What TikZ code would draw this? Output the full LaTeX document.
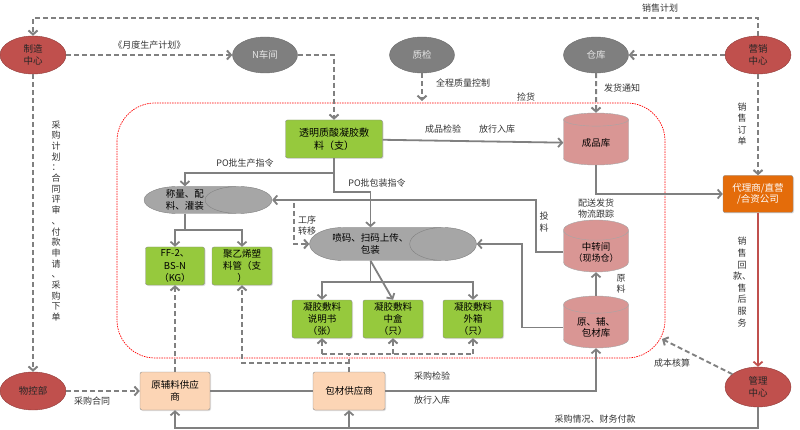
\documentclass[tikz,border=0pt]{standalone}
\usepackage{fontspec}
\setmainfont{Noto Sans CJK SC}
\usetikzlibrary{shapes.geometric,arrows.meta,shadows}

\definecolor{cred}{HTML}{C0504D}
\definecolor{cgray}{HTML}{7F7F7F}
\definecolor{cgreen}{HTML}{96C93D}
\definecolor{cpink}{HTML}{D99694}
\definecolor{corange}{HTML}{E46C0A}
\definecolor{cpeach}{HTML}{FCD5B5}
\definecolor{cpill}{HTML}{A6A6A6}
\definecolor{cline}{HTML}{808080}

\begin{document}
\begin{tikzpicture}[x=1pt,y=-1pt,
  font=\fontsize{9.5}{11.5}\selectfont,
  every node/.style={align=center},
  redell/.style={ellipse, draw=cred!75!black, fill=cred, text=black!85, minimum width=66, minimum height=38, inner sep=0pt},
  grayell/.style={ellipse, draw=cgray!85!black, fill=cgray, text=white!90!black, minimum width=65, minimum height=36, inner sep=0pt},
  box/.style={rectangle, rounded corners=2pt, draw=black!45, inner sep=1pt, drop shadow={opacity=0.25, shadow xshift=1pt, shadow yshift=-1pt}},
  greenbox/.style={box, fill=cgreen, minimum width=60, minimum height=38, font=\fontsize{9.5}{12.3}\selectfont},
  peachbox/.style={box, fill=cpeach, minimum width=70, minimum height=38},
  orangebox/.style={box, fill=corange, text=white, minimum width=70, minimum height=37},
  store/.style={cylinder, shape border rotate=90, aspect=0.43, draw=black!35, fill=cpink, minimum width=65, minimum height=52, anchor=shape center, inner sep=1pt},
  pill/.style={cylinder, aspect=3, draw=black!50, fill=cpill, anchor=shape center, inner sep=1pt},
  sline/.style={draw=cline, line width=1.8pt, -{Straight Barb[length=4pt,width=9pt]}},
  dline/.style={sline, line width=2pt, dash pattern=on 5pt off 3pt},
  redline/.style={sline, draw=cred},
  frame/.style={draw=red, line width=0.7pt, dash pattern=on 1.5pt off 1pt, rounded corners=38pt},
  lbl/.style={font=\fontsize{9}{11}\selectfont, text=black!80, inner sep=0pt},
  vlbl/.style={lbl, font=\fontsize{9}{11.6}\selectfont}]
  \useasboundingbox (0,0) rectangle (800,430);

  \draw[frame] (117,103) rectangle (665,358);

  \node[redell](zz) at (33,55) {制造\\中心};
  \node[grayell](nc) at (265,55) {N车间};
  \node[grayell](zj) at (422,55) {质检};
  \node[grayell](ck) at (596,55) {仓库};
  \node[redell](yx) at (758,55) {营销\\中心};
  \node[redell](wk) at (33,391) {物控部};
  \node[redell, minimum height=40](gl) at (758,387) {管理\\中心};

  \node[greenbox, minimum width=97, font=\fontsize{10}{13}\selectfont](tm) at (334,139) {透明质酸凝胶敷\\料（支）};
  \node[store](cp) at (596,139) {成品库};
  \node[orangebox](dl) at (758,194) {代理商/直营\\/合资公司};
  \node[pill, minimum width=27, minimum height=127](cl) at (208,200) {称量、配\\料、灌装};
  \node[pill, minimum width=33, minimum height=153](pm) at (393,244) {喷码、扫码上传、\\包装};
  \node[greenbox, minimum width=59](ff) at (175,266) {FF-2、\\BS-N\\（KG）};
  \node[greenbox](jy) at (242,266) {聚乙烯塑\\料管（支\\）};
  \node[greenbox](sm) at (322,319) {凝胶敷料\\说明书\\（张）};
  \node[greenbox](zh) at (393,319) {凝胶敷料\\中盒\\（只）};
  \node[greenbox](wx) at (473,319) {凝胶敷料\\外箱\\（只）};
  \node[store](zzj) at (596,246) {中转间\\{\fontsize{9}{11}\selectfont（现场仓）}};
  \node[store](yf) at (596,322) {原、辅、\\包材库};
  \node[peachbox](yg) at (175,391) {原辅料供应\\商};
  \node[peachbox, minimum width=72](bc) at (349,391) {包材供应商};

  \coordinate (qc) at (422,101);
  \coordinate (cb) at (662,339);
  \coordinate (gx) at (294,203);

  \draw[dline] (yx.north) -- (yx.north |- 0,18) -| (zz.north);
  \node[lbl](xsjh) at (660,8) {销售计划};
  \draw[dline] (zz) -- (nc) node[lbl, midway, above=5pt] {《月度生产计划》};
  \draw[dline] (nc.east) -| (tm.north);
  \draw[dline] (zj.south) -- (qc);
  \node[lbl](qczl) at (463,83) {全程质量控制};
  \draw[dline] (ck.south) -- (cp.north);
  \node[lbl](fhtz) at (622,88) {发货通知};
  \node[lbl](jh) at (526,97) {捡货};
  \draw[dline] (yx) -- (ck);
  \draw[dline] (yx) -- (dl);
  \node[vlbl](xsdd) at (742,124) {销\\售\\订\\单};

  \draw[sline] (tm) -- (cp);
  \node[lbl](cpjy) at (443,129) {成品检验};
  \node[lbl](fxrk) at (497,129) {放行入库};
  \draw[sline] (cp.south) |- (dl.west);
  \draw[redline] (dl) -- (gl);
  \node[vlbl](xshk) at (742,282) {销\\售\\回\\款、\\售\\后\\服\\务};
  \draw[dline] (gl) -- (cb);
  \node[lbl](cbhs) at (672,363) {成本核算};
  \draw[sline] (gl.south) -- (gl.south |- 0,428) -| (yg.south);
  \draw[sline] (bc.south |- 0,428) -- (bc.south);
  \node[lbl](cwfk) at (595,419) {采购情况、财务付款};

  \draw[dline] (zz) -- (wk);
  \node[lbl, font=\fontsize{9}{10.7}\selectfont](cgjh) at (56,221) {采\\购\\计\\划\\：\\合\\同\\评\\审\\、\\付\\款\\申\\请\\、\\采\\购\\下\\单};
  \draw[dline] (wk) -- (yg);
  \node[lbl](cght) at (92,401) {采购合同};
  \draw[sline, -] (yg) -- (bc);
  \draw[sline] (bc.east) -| (yf.south);
  \node[lbl](cgjy) at (432,376) {采购检验};
  \node[lbl](fxrk2) at (432,400) {放行入库};

  \draw[dline] (yg) -- (ff);
  \draw[dline] (bc.north) -- ++(0,-9) -| (jy.south);
  \draw[dline, -] (bc.north) -- (bc.north |- 0,354);
  \draw[dline, -] (sm.south |- 0,354) -- (wx.south |- 0,354);
  \foreach \n in {sm,zh,wx}
    \draw[dline] (\n.south |- 0,354) -- (\n.south);

  \draw[sline] (tm.south) -- ++(0,15) -| (cl.north);
  \node[lbl](scz) at (245,163) {PO批生产指令};
  \draw[sline] (tm.south) -- ++(0,34) -| (pm.north);
  \node[lbl](bzz) at (377,183) {PO批包装指令};
  \draw[sline] (zzj.west) -- ++(-27,0) |- (cl.east);
  \node[vlbl](tl) at (544,222) {投\\料};
  \node[lbl](psfh) at (596,209) {配送发货\\物流跟踪};
  \draw[sline] (yf.west) -- ++(-41,0) |- (pm.east);
  \draw[sline] (yf.north) -- (zzj.south);
  \node[vlbl](yl) at (621,284) {原\\料};
  \draw[dline] (gx) |- (pm.west);
  \node[lbl](gxzy) at (307,226) {工序\\转移};

  \draw[sline] (cl.south) -- ++(0,16) -| (ff.north);
  \draw[sline] (cl.south) -- ++(0,16) -| (jy.north);
  \draw[sline] (pm.south) -- ++(0,21) -| (sm.north);
  \draw[sline] (pm.south) -- (zh.north);
  \draw[sline] (pm.south) -- ++(0,21) -| (wx.north);
\end{tikzpicture}
\end{document}
